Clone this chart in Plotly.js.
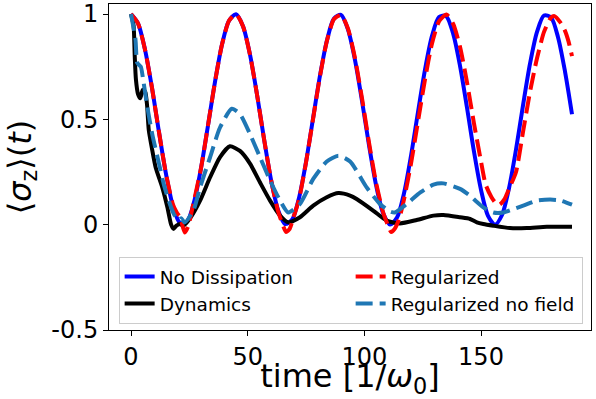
<!DOCTYPE html>
<html>
<head>
<meta charset="utf-8">
<script src="https://cdn.plot.ly/plotly-3.0.1.min.js"></script>
<style>html,body{margin:0;padding:0;background:#fff;}#chart{width:596px;height:399px;}</style>
</head>
<body>
<div id="chart"></div>
<script>
// ---- data ----
const tNoDiss = [0,3,6,9,12,15,18,21,24,27,30,33,36,39,42,45,48,51,54,57,60,63,66,69,72,75,78,81,84,87,90,93,96,99,102,105,108,111,114,117,120,123,126,129,132,135,138,141,144,147,150,153,156,159,162,165,168,171,174,177,180,183,186,189];
const vNoDiss = [1,0.956,0.831,0.649,0.439,0.241,0.088,0.008,0.015,0.107,0.268,0.471,0.678,0.855,0.968,0.999,0.942,0.807,0.618,0.408,0.214,0.071,0.003,0.023,0.127,0.297,0.503,0.708,0.876,0.978,0.996,0.926,0.781,0.587,0.377,0.189,0.056,0.001,0.034,0.149,0.327,0.535,0.736,0.896,0.986,0.991,0.909,0.754,0.555,0.346,0.165,0.042,0.000,0.046,0.173,0.357,0.566,0.764,0.915,0.993,0.984,0.890,0.727,0.524];

const tDyn = [0,1.1,1.6,2.1,3,4,5,6.1,6.9,7.6,9,10.6,13.4,15.6,17.2,18.2,19.5,21,22.4,25.3,29.6,33.9,38.1,42.4,46.7,51,55.3,59.6,63.9,67.4,72.4,78.1,83.9,88.9,93.9,96.7,103.9,109.6,115.3,122.4,129.6,133.9,141,145.3,148.2,151,155.3,162.4,169.6,178.2,189];
const vDyn = [1,0.945,0.80,0.69,0.62,0.60,0.64,0.63,0.565,0.45,0.36,0.27,0.177,0.082,0.0,-0.02,-0.005,0.003,-0.005,0.03,0.114,0.225,0.32,0.372,0.35,0.29,0.20,0.114,0.043,0.011,0.035,0.09,0.13,0.15,0.138,0.122,0.066,0.019,0.006,0.022,0.043,0.046,0.035,0.027,0.011,0.003,-0.005,-0.016,-0.016,-0.01,-0.01];

const tReg = [0,3,6,9,12,15,18,19.6,21,22.2,23.1,24.6,26.7,30,33,36,39,42,45,48,51,54,57,60,63,65,66.5,68,69.5,72,75,78,81,84,87,90,93,96,99,102,105,108,110,111.5,113,115,117,120,123,126,129,132,135.2,138,141,144,147,150,152,154.5,156.5,158,160,162,165,168,171,174,177,180,181.5,184,186,187.5,189];
const vReg = [1,0.956,0.831,0.649,0.439,0.241,0.095,0.058,0.035,-0.01,-0.037,-0.005,0.098,0.268,0.471,0.678,0.855,0.968,0.999,0.942,0.807,0.618,0.408,0.214,0.065,0.0,-0.035,-0.02,0.03,0.12,0.295,0.50,0.705,0.874,0.976,0.996,0.93,0.79,0.60,0.39,0.20,0.06,0.0,-0.035,-0.02,0.03,0.12,0.29,0.49,0.69,0.86,0.965,0.998,0.955,0.845,0.675,0.48,0.30,0.19,0.13,0.10,0.095,0.12,0.17,0.25,0.44,0.63,0.79,0.915,0.983,0.99,0.96,0.92,0.87,0.80];

const tRegNF = [0,1.9,2.6,3.3,4.2,5.4,6.9,9.1,12,14.1,16.3,18.4,20.6,21.5,23,26.7,29.6,33.9,38.1,43.2,46.7,51,55.3,59.6,63.9,67.4,72.4,78.1,83.9,88.9,93.9,101,106.7,111,113.1,118.1,124,129.6,133.9,141,145.3,148,151,155.3,159.6,163.9,168.1,173.9,179.6,184,189];
const vRegNF = [1,0.88,0.77,0.76,0.75,0.675,0.565,0.43,0.29,0.19,0.11,0.05,0.02,0.03,0.01,0.066,0.177,0.32,0.46,0.55,0.525,0.43,0.32,0.21,0.114,0.058,0.098,0.217,0.30,0.327,0.30,0.177,0.098,0.063,0.058,0.098,0.153,0.19,0.196,0.17,0.138,0.11,0.082,0.058,0.058,0.074,0.09,0.114,0.119,0.115,0.095];

const names = ["No Dissipation","Dynamics","Regularized","Regularized no field"];
const xTickVals = [0,50,100,150];
const xTickText = ["0","50","100","150"];
const yTickVals = [-0.5,0,0.5,1];
const yTickText = ["-0.5","0","0.5","1"];

const font = "DejaVu Sans, Liberation Sans, sans-serif";
const traces = [
  {x:tNoDiss, y:vNoDiss, name:names[0], mode:"lines", line:{color:"#0000ff", width:4, shape:"spline", smoothing:0.8}, legendrank:1},
  {x:tDyn, y:vDyn, name:names[1], mode:"lines", line:{color:"#000000", width:4, shape:"spline", smoothing:0.6}, legendrank:3},
  {x:tReg, y:vReg, name:names[2], mode:"lines", line:{color:"#ff0000", width:4, dash:"17px,7px", shape:"spline", smoothing:0.6}, legendrank:2},
  {x:tRegNF, y:vRegNF, name:names[3], mode:"lines", line:{color:"#1f77b4", width:4, dash:"17px,7px", shape:"spline", smoothing:0.6}, legendrank:4}
];

const axisCommon = {showgrid:false, zeroline:false, showline:true, mirror:true, linecolor:"#000", linewidth:1,
  ticks:"outside", ticklen:5, tickwidth:1, tickcolor:"#000", tickfont:{family:font, size:24, color:"#000"}};

const layout = {
  width:596, height:399,
  margin:{l:109, r:5, t:4, b:69},
  paper_bgcolor:"#fff", plot_bgcolor:"#fff",
  showlegend:true,
  xaxis:Object.assign({}, axisCommon, {range:[-9.43,197.14], tickmode:"array", tickvals:xTickVals, ticktext:xTickText,
    title:{text:"time [1/<i>ω</i><sub>0</sub>]", font:{family:font, size:32, color:"#000"}, standoff:8}}),
  yaxis:Object.assign({}, axisCommon, {range:[-0.5,1.0475], tickmode:"array", tickvals:yTickVals, ticktext:yTickText,
    title:{text:"⟨<i>σ</i><sub>z</sub>⟩(<i>t</i>)", font:{family:font, size:32, color:"#000"}, standoff:10}}),
  legend:{orientation:"h", x:0.02, y:0.224, xanchor:"left", yanchor:"top", entrywidth:186, entrywidthmode:"pixels",
    bgcolor:"rgba(255,255,255,0.8)", bordercolor:"#cccccc", borderwidth:1, font:{family:font, size:18.5, color:"#000"},
    traceorder:"normal"}
};

Plotly.newPlot("chart", traces, layout, {displayModeBar:false, staticPlot:true});
</script>
</body>
</html>
